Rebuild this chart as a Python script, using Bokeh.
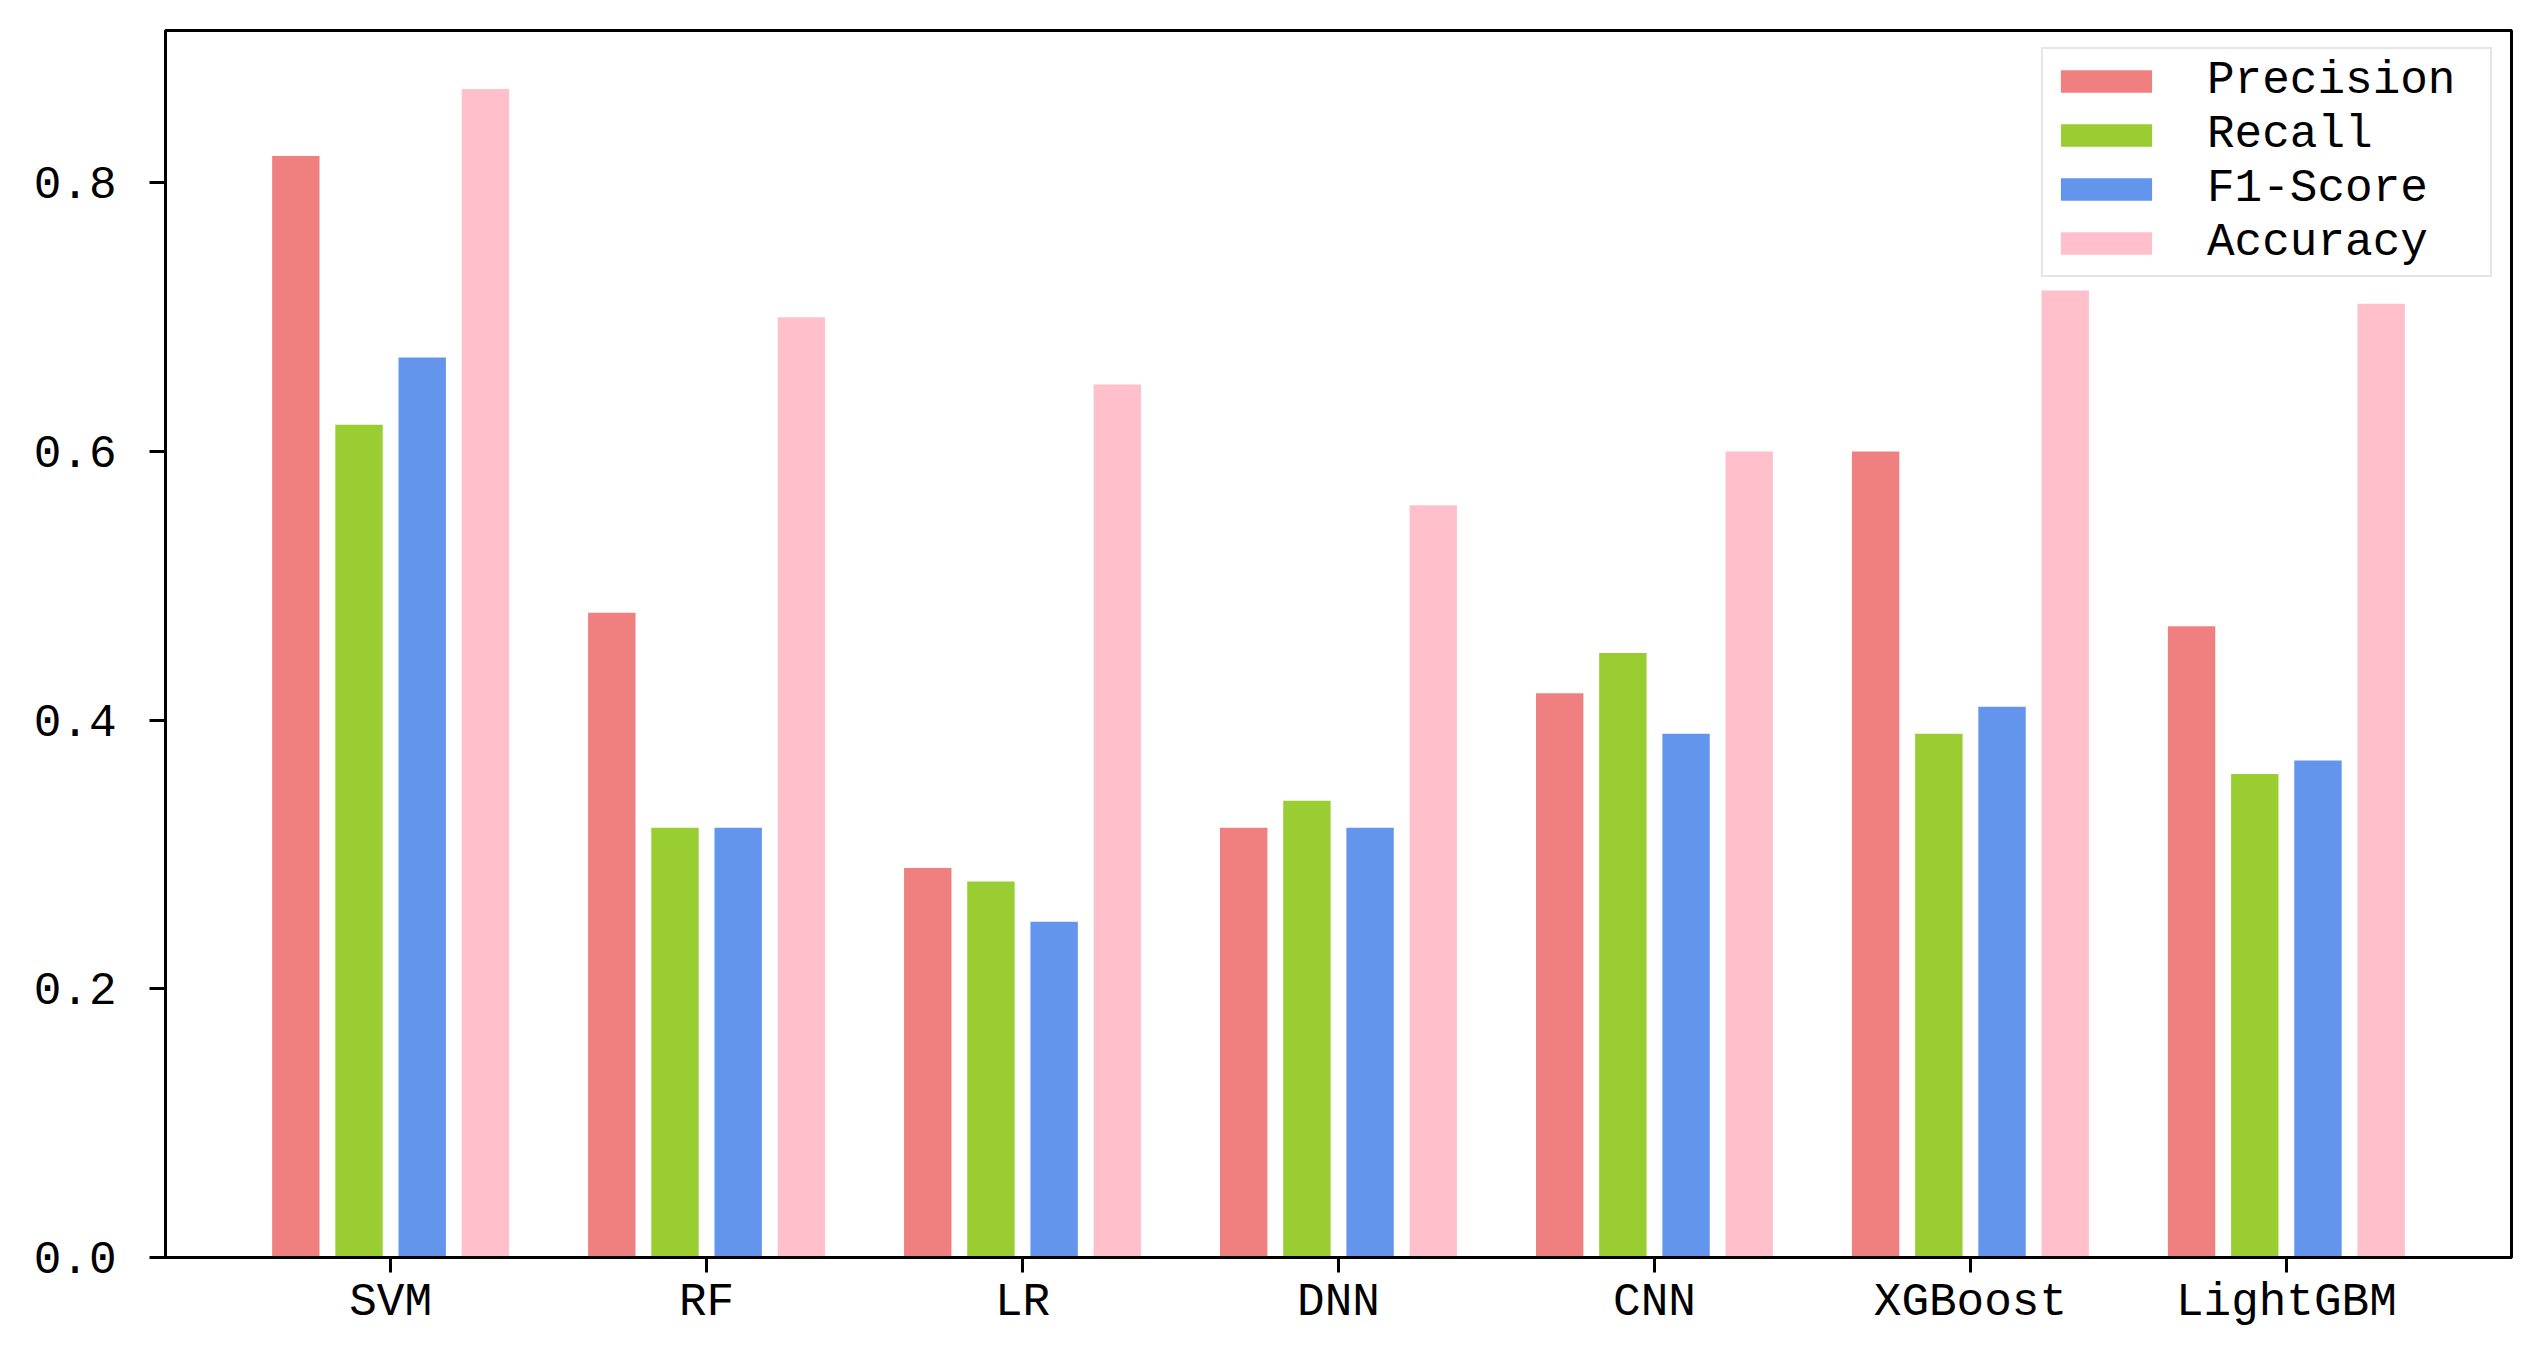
import numpy as np
from bokeh.plotting import figure
from bokeh.models import FixedTicker, Range1d, Legend, LegendItem
from bokeh.embed import file_html
from bokeh.resources import INLINE

models = ["SVM", "RF", "LR", "DNN", "CNN", "XGBoost", "LightGBM"]
precision = [0.82, 0.48, 0.29, 0.32, 0.42, 0.60, 0.47]
recall = [0.62, 0.32, 0.28, 0.34, 0.45, 0.39, 0.36]
f1_score = [0.67, 0.32, 0.25, 0.32, 0.39, 0.41, 0.37]
accuracy = [0.87, 0.70, 0.65, 0.56, 0.60, 0.72, 0.71]
series_names = ["Precision", "Recall", "F1-Score", "Accuracy"]
colors = ["#F08080", "#9ACD32", "#6495ED", "#FFC0CB"]
y_ticks = [0.0, 0.2, 0.4, 0.6, 0.8]

FONT = "Liberation Mono"
FS = "46px"

series = [precision, recall, f1_score, accuracy]
bar_w = 0.15
step = 0.2
idx = np.arange(len(models))
offsets = [(-1.5 + k) * step for k in range(4)]

xmin = -0.3 - bar_w / 2
xmax = len(models) - 1 + 0.3 + bar_w / 2
pad = 0.05 * (xmax - xmin)
ymax = max(max(s) for s in series) * 1.05

p = figure(width=2531, height=1338, output_backend="svg", toolbar_location=None,
           x_range=Range1d(xmin - pad, xmax + pad), y_range=Range1d(0, ymax),
           min_border_left=165, min_border_top=30, min_border_right=20, min_border_bottom=81)
p.background_fill_color = "white"
p.border_fill_color = "white"
p.xgrid.visible = False
p.ygrid.visible = False
p.outline_line_color = "black"
p.outline_line_width = 3

renderers = []
for k, (vals, name, c) in enumerate(zip(series, series_names, colors)):
    r = p.vbar(x=idx + offsets[k], top=vals, bottom=0, width=bar_w,
               fill_color=c, line_color=None)
    renderers.append(r)

for ax in (p.xaxis[0], p.yaxis[0]):
    ax.axis_line_color = "black"
    ax.axis_line_width = 3
    ax.major_tick_line_color = "black"
    ax.major_tick_line_width = 3
    ax.major_tick_in = 0
    ax.minor_tick_line_color = None
    ax.major_label_text_font = FONT
    ax.major_label_text_font_size = FS
    ax.major_label_text_color = "black"

p.xaxis.ticker = FixedTicker(ticks=list(range(len(models))))
p.xaxis.major_label_overrides = {i: m for i, m in enumerate(models)}
p.xaxis.major_tick_out = 15
p.xaxis.major_label_standoff = 4

p.yaxis.ticker = FixedTicker(ticks=y_ticks)
p.yaxis.major_label_overrides = {t: f"{t:.1f}" for t in y_ticks}
p.yaxis.major_tick_out = 16
p.yaxis.major_label_standoff = 33

legend = Legend(items=[LegendItem(label=n, renderers=[r]) for n, r in zip(series_names, renderers)],
                location=(1876, 980))
legend.label_text_font = FONT
legend.label_text_font_size = FS
legend.label_text_color = "black"
legend.glyph_width = 114
legend.glyph_height = 28
legend.label_standoff = 44
legend.label_width = 277
legend.padding = 6
legend.spacing = 2
legend.margin = 0
legend.border_line_color = "#cccccc"
legend.border_line_width = 2
legend.background_fill_color = "white"
legend.background_fill_alpha = 0.8
p.add_layout(legend, "center")

open("out.html", "w").write(file_html(p, INLINE))
